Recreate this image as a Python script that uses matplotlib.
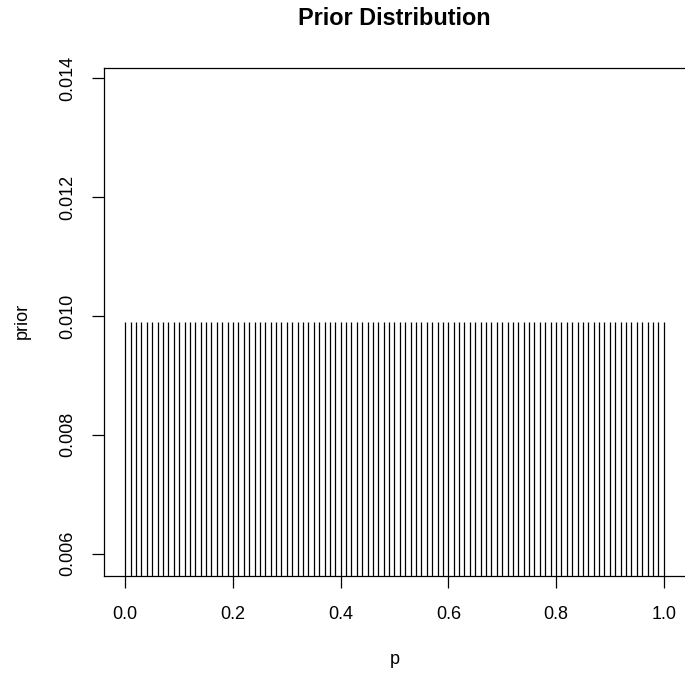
import numpy as np
import matplotlib.pyplot as plt

plt.rcParams['font.family'] = ['Liberation Sans', 'DejaVu Sans']

# 101 grid points, uniform prior
p = np.round(np.arange(0, 101) * 0.01, 2)
prior = np.full(101, 1 / 101)

fig = plt.figure(figsize=(6.85, 6.76), dpi=100)
ax = fig.add_axes([0.1515, 0.1475, 0.8488, 0.7524])

ax.vlines(p, 0, prior, color="black", linewidth=0.9)
ax.set_xlim(-0.04, 1.04)
ax.set_ylim(0.00562, 0.01418)

ax.set_xticks([0.0, 0.2, 0.4, 0.6, 0.8, 1.0])
ax.set_xticklabels(["0.0", "0.2", "0.4", "0.6", "0.8", "1.0"])
ax.set_yticks([0.006, 0.008, 0.010, 0.012, 0.014])
ax.set_yticklabels(["0.006", "0.008", "0.010", "0.012", "0.014"], rotation=90, va="center")
ax.tick_params(axis="both", length=8.6, width=0.9, labelsize=13, direction="out")
ax.tick_params(axis="x", pad=12.5)
ax.tick_params(axis="y", pad=11.5)
ax.spines["right"].set_visible(False)
for s in ["left", "top", "bottom"]:
    ax.spines[s].set_linewidth(0.9)

# title and axis labels placed like R's base graphics
fig.text(394 / 685, 1 - 18.5 / 676, "Prior Distribution", ha="center", va="center",
         fontsize=16.8, fontweight="bold")
fig.text(22 / 685, 1 - 321 / 676, "prior", rotation=90, ha="center", va="center", fontsize=13)
fig.text(395 / 685, 1 - 659 / 676, "p", ha="center", va="center", fontsize=13)

fig.savefig("out.png", dpi=100)
